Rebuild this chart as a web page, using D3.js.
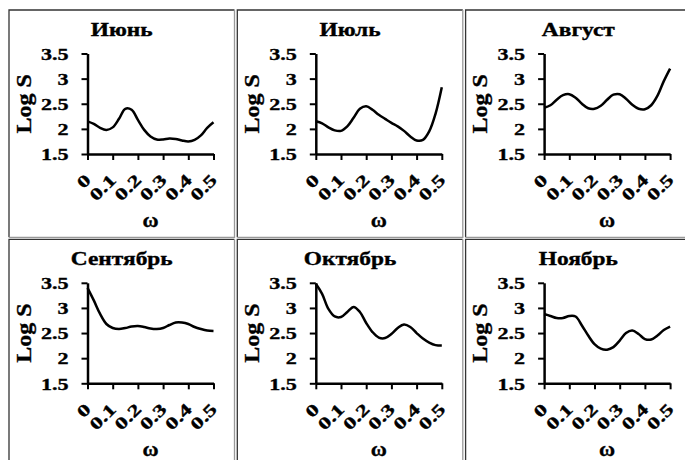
<!DOCTYPE html>
<html>
<head>
<meta charset="utf-8">
<script src="https://cdnjs.cloudflare.com/ajax/libs/d3/7.8.5/d3.min.js"></script>
<style>
  body { margin: 0; background: #fff; }
  svg { display: block; }
</style>
</head>
<body>
<script>

// frequencies shared by all panels
var omega = [0, 0.025, 0.05, 0.075, 0.1, 0.125, 0.15, 0.175, 0.2, 0.225, 0.25,
             0.275, 0.3, 0.325, 0.35, 0.375, 0.4, 0.425, 0.45, 0.475, 0.5];

// log spectrum
var june = [2.15, 2.10, 2.02, 1.98, 2.03, 2.20, 2.40, 2.38, 2.18, 1.98, 1.85,
            1.79, 1.79, 1.81, 1.80, 1.77, 1.75, 1.78, 1.87, 2.02, 2.13];
var july = [2.15, 2.11, 2.03, 1.97, 1.96, 2.05, 2.22, 2.40, 2.45, 2.38, 2.28,
            2.20, 2.12, 2.05, 1.96, 1.85, 1.77, 1.78, 1.95, 2.30, 2.83];
var august = [2.42, 2.47, 2.58, 2.67, 2.69, 2.62, 2.50, 2.41, 2.40, 2.46, 2.58,
              2.68, 2.69, 2.60, 2.48, 2.40, 2.39, 2.47, 2.66, 2.95, 3.20];
var september = [3.40, 3.15, 2.88, 2.68, 2.60, 2.58, 2.60, 2.63, 2.64, 2.62, 2.59,
                 2.58, 2.60, 2.66, 2.71, 2.71, 2.68, 2.62, 2.58, 2.55, 2.54];
var october = [3.48, 3.28, 2.98, 2.83, 2.82, 2.92, 3.02, 2.92, 2.70, 2.52, 2.41,
               2.40, 2.48, 2.60, 2.67, 2.62, 2.50, 2.39, 2.31, 2.26, 2.25];
var november = [2.88, 2.84, 2.80, 2.80, 2.84, 2.83, 2.65, 2.45, 2.28, 2.19, 2.17,
                2.22, 2.35, 2.50, 2.55, 2.48, 2.38, 2.37, 2.45, 2.56, 2.63];

var months = ['Июнь', 'Июль', 'Август', 'Сентябрь', 'Октябрь', 'Ноябрь'];
var series = [june, july, august, september, october, november];

// ticks
var yTicks = [1.5, 2, 2.5, 3, 3.5];
var yTickLabels = ['1.5', '2', '2.5', '3', '3.5'];
var xTicks = [0, 0.1, 0.2, 0.3, 0.4, 0.5];
var xTickLabels = ['0', '0.1', '0.2', '0.3', '0.4', '0.5'];

var yTitle = 'Log S';
var xTitle = 'ω';

// page + cell geometry
var W = 685, H = 460;
var originX = 9, originY = 10;
var stepX = 228.3, stepY = 229.3;
var cellW = 225.5, cellH = 227.3;
var plot = {left: 78.5, top: 43.5, width: 126, height: 100.5};

var font = '"Liberation Serif", "Times New Roman", serif';
var stretch = 1.3; // text in the source is drawn wide

var svg = d3.select('body').append('svg')
            .attr('width', W)
            .attr('height', H);

var xScale = d3.scaleLinear().domain([0, 0.5]).range([0, plot.width]);
var yScale = d3.scaleLinear().domain([1.5, 3.5]).range([plot.height, 0]);

var line = d3.line()
             .x(function(d) { return xScale(d[0]); })
             .y(function(d) { return yScale(d[1]); })
             .curve(d3.curveCatmullRom.alpha(0.5));

// heavy bold serif, like the source
function boldText(sel, size) {
  sel.style('font-family', font)
     .style('font-weight', 'bold')
     .style('font-size', size + 'px')
     .attr('fill', '#000')
     .attr('stroke', '#000')
     .attr('stroke-width', 0.35);
}

months.forEach(function(name, i) {
  var col = i % 3, row = Math.floor(i / 3);
  var cx = originX + col * stepX;
  var cy = originY + row * stepY;

  var cell = svg.append('g')
                .attr('transform', 'translate(' + cx + ',' + cy + ')');

  // table-like cell border: dark top/left, gray bottom/right
  cell.append('path')
      .attr('d', 'M0,' + cellH + 'V0H' + cellW)
      .attr('fill', 'none')
      .attr('stroke', '#333')
      .attr('stroke-width', 1.3);
  cell.append('path')
      .attr('d', 'M' + cellW + ',0V' + cellH + 'H0')
      .attr('fill', 'none')
      .attr('stroke', '#999')
      .attr('stroke-width', 1.3);

  // title
  cell.append('text')
      .attr('transform', 'translate(' + (cellW / 2) + ',26) scale(' + stretch + ',1)')
      .attr('text-anchor', 'middle')
      .call(boldText, 18)
      .text(name);

  var g = cell.append('g')
              .attr('transform', 'translate(' + plot.left + ',' + plot.top + ')');

  // y axis
  var yAxis = d3.axisLeft(yScale)
                .tickValues(yTicks)
                .tickSize(6)
                .tickSizeOuter(0)
                .tickFormat(function(d, j) { return yTickLabels[j]; });
  var gY = g.append('g').call(yAxis);
  gY.selectAll('text')
    .attr('x', 0)
    .attr('dy', '0.34em')
    .attr('transform', 'translate(-19,0) scale(' + stretch + ',1)')
    .call(boldText, 17);

  // x axis
  var xAxis = d3.axisBottom(xScale)
                .tickValues(xTicks)
                .tickSize(6)
                .tickSizeOuter(0)
                .tickFormat(function(d, j) { return xTickLabels[j]; });
  var gX = g.append('g')
            .attr('transform', 'translate(0,' + plot.height + ')')
            .call(xAxis);
  gX.selectAll('text')
    .attr('x', 0)
    .attr('y', 0)
    .attr('dy', 0)
    .style('text-anchor', 'end')
    .attr('transform', 'translate(4,27) rotate(-45) scale(1.4,1)')
    .call(boldText, 17);

  g.selectAll('.domain')
   .attr('stroke', '#000')
   .attr('stroke-width', 2.5);
  g.selectAll('.tick line')
   .attr('stroke', '#000')
   .attr('stroke-width', 2);

  // spectrum curve
  var pts = omega.map(function(w, k) { return [w, series[i][k]]; });
  g.append('path')
   .datum(pts)
   .attr('d', line)
   .attr('fill', 'none')
   .attr('stroke', '#000')
   .attr('stroke-width', 2.5);

  // axis titles
  g.append('text')
   .attr('transform', 'translate(' + (-57) + ',' + (plot.height / 2) + ') rotate(-90) scale(1.2,1)')
   .attr('text-anchor', 'middle')
   .call(boldText, 20)
   .text(yTitle);

  g.append('text')
   .attr('x', plot.width / 2)
   .attr('y', 173)
   .attr('text-anchor', 'middle')
   .call(boldText, 22)
   .text(xTitle);
});

</script>
</body>
</html>
